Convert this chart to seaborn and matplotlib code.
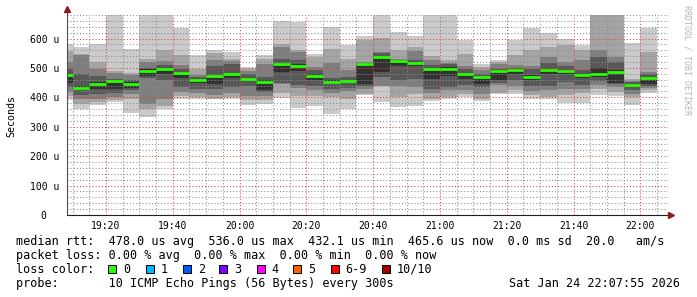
import numpy as np
import pandas as pd
import matplotlib
matplotlib.use("Agg")
import matplotlib.pyplot as plt
import matplotlib.dates as mdates
from matplotlib.ticker import MultipleLocator, FuncFormatter
from matplotlib.patches import Rectangle
import seaborn as sns

# ---------------- data (microseconds) ----------------
bin_start = pd.date_range("2026-01-24 19:05", periods=36, freq="5min")
ping1 = [390,361,373,385,347,332,362,396,393,393,393,375,379,398,365,370,343,360,407,385,368,370,387,393,400,388,412,413,396,393,381,381,407,404,375,415]
ping2 = [404,377,385,392,396,362,370,404,400,396,400,390,392,415,404,404,400,396,413,437,402,413,396,400,411,396,415,425,407,402,407,415,430,419,400,425]
ping3 = [419,393,395,402,413,379,395,419,415,407,415,405,404,447,432,424,415,420,427,440,438,436,415,425,425,410,441,440,420,424,430,427,441,434,413,433]
ping4 = [436,408,410,415,424,465,458,436,427,427,436,440,418,450,441,440,430,432,438,470,458,464,430,436,441,435,448,460,440,438,452,441,455,444,426,440]
ping5 = [449,425,428,430,432,472,480,466,448,446,465,455,425,485,490,460,445,448,447,487,506,506,462,472,462,445,458,478,460,480,478,465,470,450,436,445]
median = [475,432,445,455,447,490,497,484,459,471,478,462,452,513,507,473,453,455,514,537,524,518,496,498,478,468,490,493,469,493,490,476,479,485,443,466]
ping6 = [480,440,452,458,452,495,500,487,462,476,480,466,458,518,512,478,458,460,515,540,526,521,500,502,482,472,494,496,475,496,494,480,500,492,447,470]
ping7 = [498,478,472,462,460,500,510,495,470,506,512,478,470,530,526,494,465,468,518,550,527,526,510,515,498,480,498,500,498,517,505,494,537,520,452,478]
ping8 = [520,545,498,482,476,521,525,510,477,526,524,490,515,571,555,504,517,492,521,555,530,558,528,518,505,493,512,509,505,537,521,526,560,537,456,485]
ping9 = [558,549,521,490,484,532,562,543,495,550,530,497,532,583,560,537,566,532,596,603,562,570,540,527,549,504,521,543,560,571,577,560,720,720,464,555]
ping10 = [583,571,583,700,566,700,700,637,543,562,555,504,543,660,656,548,640,577,608,700,622,608,700,700,594,515,526,594,635,619,600,577,720,720,585,637]

loss_labels = ["0", "1", "2", "3", "4", "5", "6-9", "10/10"]
loss_colors = ["#26ff00", "#00b8ff", "#0059ff", "#7e00ff", "#ff00ff", "#ff5e00", "#ff0000", "#a10000"]
smoke_shades = ["#cacaca", "#a4a4a4", "#7e7e7e", "#585858", "#323232"]

line_rtt = "median rtt:  478.0 us avg  536.0 us max  432.1 us min  465.6 us now  0.0 ms sd  20.0   am/s"
line_loss = "packet loss: 0.00 % avg  0.00 % max  0.00 % min  0.00 % now"
line_probe = "probe:       10 ICMP Echo Pings (56 Bytes) every 300s"
stamp = "Sat Jan 24 22:07:55 2026"

# ---------------- figure ----------------
sns.set_theme(style="white")
plt.rcParams["font.family"] = ["DejaVu Sans Mono"]
W, H = 697, 297
fig = plt.figure(figsize=(W / 100, H / 100), dpi=100, facecolor="white")
L, R, T, B = 67, 668, 15, 215
ax = fig.add_axes([L / W, (H - B) / H, (R - L) / W, (B - T) / H])
ax.set_facecolor("white")

edges = list(bin_start) + [bin_start[-1] + pd.Timedelta(minutes=5)]
xe = mdates.date2num(pd.DatetimeIndex(edges).to_pydatetime())
pings = [ping1, ping2, ping3, ping4, ping5, ping6, ping7, ping8, ping9, ping10]
for i in range(5):
    lo = pings[i] + [pings[i][-1]]
    hi = pings[9 - i] + [pings[9 - i][-1]]
    ax.fill_between(xe, lo, hi, step="post", color=smoke_shades[i], linewidth=0, zorder=1)

# median as short horizontal segments, one per bin
rows = []
for k, (t, m) in enumerate(zip(bin_start, median)):
    rows.append({"t": t, "rtt": m, "bin": k})
    rows.append({"t": t + pd.Timedelta(minutes=5), "rtt": m, "bin": k})
df = pd.DataFrame(rows)
sns.lineplot(data=df, x="t", y="rtt", units="bin", estimator=None, color=loss_colors[0],
             linewidth=2.0, solid_capstyle="butt", ax=ax, legend=False, zorder=4)

xmin = pd.Timestamp("2026-01-24 19:08:19")
xmax = pd.Timestamp("2026-01-24 22:08:18")
ax.set_xlim(mdates.date2num(xmin.to_pydatetime()), mdates.date2num(xmax.to_pydatetime()))
ax.set_ylim(0, 680)

ax.xaxis.set_major_locator(mdates.MinuteLocator(byminute=[0, 20, 40]))
ax.xaxis.set_minor_locator(mdates.MinuteLocator(byminute=range(0, 60, 5)))
ax.xaxis.set_major_formatter(mdates.DateFormatter("%H:%M"))
ax.yaxis.set_major_locator(MultipleLocator(100))
ax.yaxis.set_minor_locator(MultipleLocator(20))
ax.yaxis.set_major_formatter(FuncFormatter(lambda v, p: "0  " if v == 0 else f"{int(v)} u"))

ax.set_axisbelow(False)
dot = (0, (1, 2))
ax.grid(which="minor", color=(0.55, 0.55, 0.55, 0.5), linestyle=dot, linewidth=0.75)
ax.grid(which="major", color=(0.9, 0.25, 0.25, 0.5), linestyle=dot, linewidth=0.75)
for s in ax.spines.values():
    s.set_visible(False)
ax.tick_params(which="both", direction="out", length=1.5, width=0.7, color="#404040",
               labelsize=7, labelcolor="black")
ax.tick_params(axis="y", pad=4.2)
ax.tick_params(axis="x", pad=2.5)
ax.set_xlabel("")
ax.set_ylabel("")

# axis lines with arrows
ax.plot([0, 0], [0, 1.02], transform=ax.transAxes, clip_on=False, color="#505050", lw=0.8, zorder=5)
ax.plot([0, 1.005], [0, 0], transform=ax.transAxes, clip_on=False, color="#202020", lw=0.8, zorder=5)
ax.plot([0], [1.0275], transform=ax.transAxes, clip_on=False, marker="^", markersize=4.5,
        color="#8b1c1c", zorder=6)
ax.plot([1.0055], [0], transform=ax.transAxes, clip_on=False, marker=">", markersize=4.5,
        color="#8b1c1c", zorder=6)

def px(x, y):
    return x / W, 1 - y / H

fig.text(*px(11, 116), "Seconds", rotation=90, ha="center", va="center", fontsize=7.2, color="black")
fig.text(*px(687, 60), "RRDTOOL / TOBI OETIKER", rotation=270, ha="center", va="center",
         fontsize=6, color="#b4b4b4")

fs = 8.5
fig.text(*px(16, 241.7), line_rtt, ha="left", va="center", fontsize=fs, color="black")
fig.text(*px(16, 255.5), line_loss, ha="left", va="center", fontsize=fs, color="black")
fig.text(*px(16, 269.5), "loss color:", ha="left", va="center", fontsize=fs, color="black")
fig.text(*px(16, 283.5), line_probe, ha="left", va="center", fontsize=fs, color="black")
fig.text(*px(680, 283.5), stamp, ha="right", va="center", fontsize=fs, color="black")

sq_x = [108.3, 145.7, 182.7, 219.3, 256.7, 293.3, 330.7, 381.7]
for x0, lab, col in zip(sq_x, loss_labels, loss_colors):
    fig.patches.append(Rectangle((x0 / W, 1 - 273.3 / H), 8 / W, 8 / H, transform=fig.transFigure,
                                 facecolor=col, edgecolor="black", linewidth=0.7))
    fig.text(*px(x0 + 15, 269.5), lab, ha="left", va="center", fontsize=fs, color="black")

fig.savefig("out.png", dpi=100, facecolor="white")
